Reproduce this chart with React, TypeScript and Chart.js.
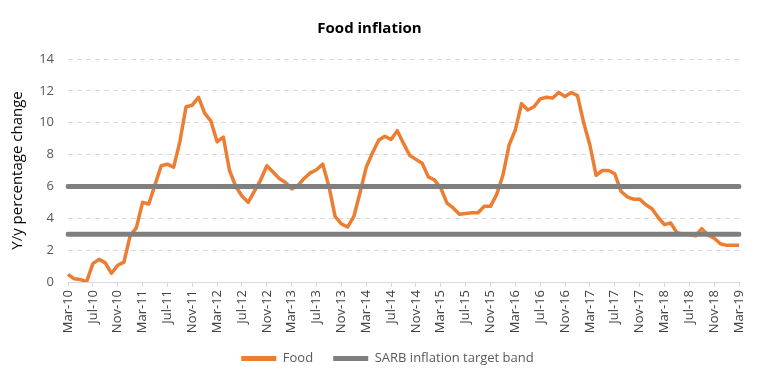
import { useEffect, useRef } from 'react';
import { Chart, registerables } from 'chart.js';

Chart.register(...registerables);

const MONTHS = ['Jan', 'Feb', 'Mar', 'Apr', 'May', 'Jun', 'Jul', 'Aug', 'Sep', 'Oct', 'Nov', 'Dec'];
const categories: string[] = [];
for (let y = 2010; y <= 2019; y++) {
  for (let m = 0; m < 12; m++) {
    if (y === 2010 && m < 2) continue;
    if (y === 2019 && m > 2) continue;
    categories.push(`${MONTHS[m]}-${String(y).slice(2)}`);
  }
}

const food = [
  0.48, 0.2, 0.15, 0.02, 1.15, 1.42, 1.2, 0.55, 1.05, 1.25,
  2.9, 3.4, 5.0, 4.9, 6.1, 7.3, 7.4, 7.2, 8.8, 11.0,
  11.1, 11.6, 10.6, 10.1, 8.8, 9.1, 7.0, 6.0, 5.4, 5.0,
  5.7, 6.4, 7.3, 6.9, 6.5, 6.25, 5.85, 6.05, 6.5, 6.85,
  7.05, 7.4, 6.0, 4.1, 3.65, 3.45, 4.1, 5.6, 7.2, 8.1,
  8.9, 9.15, 8.95, 9.5, 8.7, 7.95, 7.7, 7.45, 6.6, 6.4,
  5.9, 4.95, 4.65, 4.25, 4.3, 4.35, 4.35, 4.75, 4.75, 5.5,
  6.7, 8.6, 9.55, 11.2, 10.8, 11.0, 11.5, 11.6, 11.55, 11.9,
  11.65, 11.9, 11.7, 10.0, 8.6, 6.7, 7.0, 7.0, 6.8, 5.7,
  5.35, 5.2, 5.2, 4.85, 4.6, 4.05, 3.6, 3.7, 3.1, 3.0,
  3.0, 2.9, 3.35, 2.95, 2.75, 2.4, 2.3, 2.3, 2.3,
];

const bandUpperValue = 6;
const bandLowerValue = 3;
const bandUpper = categories.map(() => bandUpperValue);
const bandLower = categories.map(() => bandLowerValue);

const yTicks = [0, 2, 4, 6, 8, 10, 12, 14];

const ORANGE = '#ED7D31';
const GREY = '#7F7F7F';
const TEXT = '#595959';
const FONT = "'Open Sans', 'Liberation Sans', sans-serif";

const legendShift = {
  id: 'legendShift',
  afterLayout(chart: any) {
    const lg = chart.legend;
    if (lg) {
      lg.left += 18;
      lg.right += 18;
    }
  },
};

export default function App() {
  const ref = useRef<HTMLCanvasElement | null>(null);

  useEffect(() => {
    if (!ref.current) return;
    const chart = new Chart(ref.current, {
      type: 'line',
      plugins: [legendShift],
      data: {
        labels: categories,
        datasets: [
          {
            label: 'Food',
            data: food,
            borderColor: ORANGE,
            backgroundColor: ORANGE,
            borderWidth: 3.5,
            pointRadius: 0,
            tension: 0,
            order: 1,
            borderJoinStyle: 'round',
          },
          {
            label: 'SARB inflation target band',
            data: bandUpper,
            borderColor: GREY,
            backgroundColor: GREY,
            borderWidth: 5,
            pointRadius: 0,
            borderCapStyle: 'round',
            order: 0,
          },
          {
            label: 'SARB lower',
            data: bandLower,
            borderColor: GREY,
            backgroundColor: GREY,
            borderWidth: 5,
            pointRadius: 0,
            borderCapStyle: 'round',
            order: 0,
          },
        ],
      },
      options: {
        animation: false,
        responsive: false,
        maintainAspectRatio: false,
        layout: { padding: { left: 0, right: 27, top: 0, bottom: 12 } },
        plugins: {
          tooltip: { enabled: false },
          title: {
            display: true,
            text: 'Food inflation',
            color: '#000000',
            font: { family: FONT, size: 15, weight: 'bold' },
            padding: { top: 20, bottom: 21 },
          },
          legend: {
            position: 'bottom',
            labels: {
              boxWidth: 35,
              boxHeight: 5,
              padding: 10,
              color: TEXT,
              font: { family: FONT, size: 13 },
              generateLabels: () => [
                { text: 'Food   ', fillStyle: ORANGE, strokeStyle: ORANGE, lineWidth: 0, datasetIndex: 0, hidden: false, fontColor: TEXT },
                { text: 'SARB inflation target band', fillStyle: GREY, strokeStyle: GREY, lineWidth: 0, datasetIndex: 1, hidden: false, fontColor: TEXT },
              ],
            },
          },
        },
        scales: {
          x: {
            type: 'category',
            offset: false,
            afterFit: (s: any) => { s.height = 60; },
            grid: {
              display: true,
              drawOnChartArea: false,
              drawTicks: true,
              tickLength: 5,
              color: (ctx: any) => (ctx.index % 4 === 0 ? '#D9D9D9' : 'rgba(0,0,0,0)'),
            },
            border: { display: true, color: '#D9D9D9', width: 1 },
            ticks: {
              autoSkip: false,
              maxRotation: 90,
              minRotation: 90,
              padding: 3,
              color: '#404040',
              font: { family: FONT, size: 13 },
              callback: (_v: any, i: number) => (i % 4 === 0 ? categories[i] : ''),
            },
          },
          y: {
            min: 0,
            max: 14,
            afterFit: (s: any) => { s.width = 68; },
            afterBuildTicks: (s: any) => { s.ticks = yTicks.map((v) => ({ value: v })); },
            grid: {
              display: true,
              drawTicks: false,
              color: '#D9D9D9',
            },
            border: { display: false, dash: [5, 4] },
            ticks: {
              padding: 14,
              color: TEXT,
              font: { family: FONT, size: 13 },
            },
            title: {
              display: true,
              text: 'Y/y percentage change',
              color: '#000000',
              font: { family: FONT, size: 15 },
              padding: { top: 9, bottom: 0 },
            },
          },
        },
      },
    });
    return () => chart.destroy();
  }, []);

  return (
    <div style={{ position: 'fixed', left: 0, top: 0, width: 766, height: 387, background: '#fff' }}>
      <canvas ref={ref} width={766} height={387} style={{ width: 766, height: 387 }} />
    </div>
  );
}
